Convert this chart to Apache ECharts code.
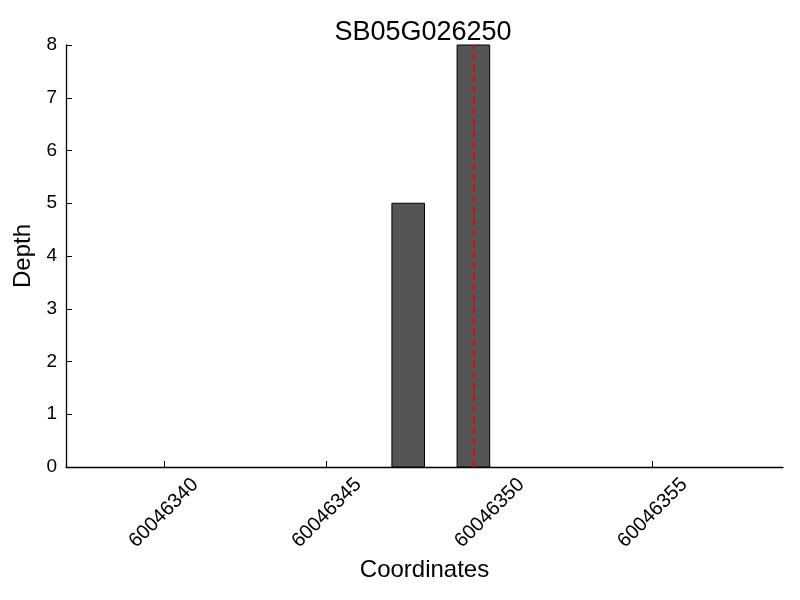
<!DOCTYPE html>
<html><head><meta charset="utf-8">
<script src="https://cdn.jsdelivr.net/npm/echarts@6/dist/echarts.min.js"></script>
<style>html,body{margin:0;padding:0;background:#fff}#c{width:800px;height:600px}</style>
</head><body><div id="c"></div>
<script>
const title = 'SB05G026250';
const positions = [60046347, 60046349];
const depths = [5, 8];
const xTicks = [60046340, 60046345, 60046350, 60046355];
const markerPos = [60046349.5];
const font = 'Liberation Sans, Arial, sans-serif';

const chart = echarts.init(document.getElementById('c'));
chart.setOption({
  animation: false,
  backgroundColor: '#fff',
  title: {text: title, left: 418, top: 14, textAlign: 'center',
    textStyle: {fontFamily: font, fontSize: 27, fontWeight: 'normal', color: '#000'}},
  grid: {left: 66, right: 17, top: 45, bottom: 133, containLabel: false, outerBoundsMode: 'none'},
  xAxis: {
    type: 'value', min: 60046337, max: 60046359,
    name: 'Coordinates', nameLocation: 'middle', nameGap: 87,
    nameTextStyle: {fontFamily: font, fontSize: 24, color: '#000', verticalAlign: 'top'},
    axisLine: {lineStyle: {color: '#000', width: 1.3}},
    axisTick: {show: true, inside: true, length: 6, customValues: xTicks, lineStyle: {color: '#000'}},
    axisLabel: {customValues: xTicks, rotate: 45, fontFamily: font, fontSize: 20, color: '#000', margin: 46,
      align: 'center', verticalAlign: 'middle', formatter: v => String(v)},
    splitLine: {show: false}
  },
  yAxis: {
    type: 'value', min: 0, max: 8, interval: 1,
    name: 'Depth', nameLocation: 'middle', nameGap: 28,
    nameTextStyle: {fontFamily: font, fontSize: 24, color: '#000'},
    axisLine: {show: true, lineStyle: {color: '#000', width: 1.3}},
    axisTick: {show: true, inside: true, length: 6, lineStyle: {color: '#000'}},
    axisLabel: {fontFamily: font, fontSize: 19, color: '#000', margin: 9},
    splitLine: {show: false}
  },
  series: [{
    type: 'custom',
    data: positions.map((p, i) => [p, depths[i]]),
    renderItem: function (params, api) {
      const x = api.value(0), v = api.value(1);
      const p0 = api.coord([x, 0]);
      const p1 = api.coord([x + 1, v]);
      return {type: 'rect',
        shape: {x: p0[0], y: p1[1], width: p1[0] - p0[0], height: p0[1] - p1[1]},
        style: {fill: '#555555', stroke: '#000', lineWidth: 1}};
    },
    z: 2
  }, {
    type: 'line', data: [], z: 5,
    markLine: {symbol: 'none', silent: true, label: {show: false},
      lineStyle: {color: '#ee0000', type: [7, 4], width: 2},
      data: markerPos.map(v => ({xAxis: v}))}
  }]
});
</script></body></html>
